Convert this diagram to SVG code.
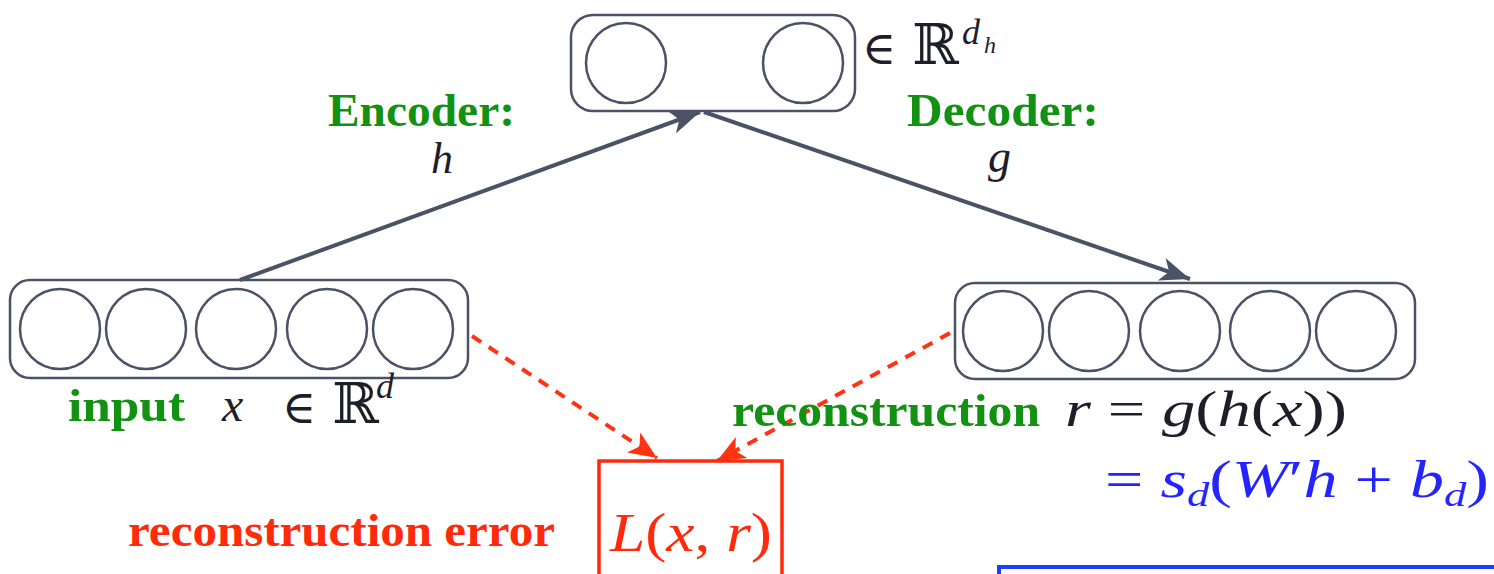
<svg xmlns="http://www.w3.org/2000/svg" width="1494" height="574" viewBox="0 0 1494 574">
<style>
.box{fill:none;stroke:#4a5366;stroke-width:2.5}
.unit{fill:none;stroke:#4a5366;stroke-width:2.5}
.lbl{font-family:"Liberation Serif",serif;font-weight:bold;fill:#139113}
.math{font-family:"Liberation Serif",serif;font-style:italic;fill:#1e1e2a}
.up{font-style:normal}
.sym{font-family:"DejaVu Serif",serif;fill:#1e1e2a}
.conn{stroke:#4a5366;stroke-width:4;fill:none}
.err{stroke:#ff3311;stroke-width:4;fill:none;stroke-dasharray:11 9}
</style>
<defs>
<marker id="ah" markerUnits="userSpaceOnUse" markerWidth="32" markerHeight="26" refX="30" refY="13" orient="auto">
<path d="M0,1 L30,13 L0,25 L8,13 z" fill="#4a5366"/>
</marker>
<marker id="ahr" markerUnits="userSpaceOnUse" markerWidth="30" markerHeight="26" refX="28" refY="13" orient="auto">
<path d="M0,1 L28,13 L0,25 L7,13 z" fill="#ff3311"/>
</marker>
</defs>
<rect width="1494" height="574" fill="#fff"/>

<g id="connectors">
<line class="conn" x1="240" y1="280" x2="700" y2="112" marker-end="url(#ah)"/>
<line class="conn" x1="704" y1="112" x2="1190" y2="279" marker-end="url(#ah)"/>
<line class="err" x1="472" y1="336" x2="657" y2="458" marker-end="url(#ahr)"/>
<line class="err" x1="950" y1="333" x2="717" y2="461" marker-end="url(#ahr)"/>
</g>

<g id="hidden">
<rect class="box" x="571" y="15" width="284" height="96" rx="22"/>
<circle class="unit" cx="626" cy="63" r="40"/>
<circle class="unit" cx="803" cy="63" r="40"/>
<text x="862" y="64" class="sym" font-size="46">∈</text>
<text x="912" y="64" class="sym" font-size="56">ℝ</text>
<text x="962" y="44" class="math" font-size="36">d</text>
<text x="984" y="53" class="math" font-size="24">h</text>
</g>

<g id="encoder-label">
<text x="328" y="126" class="lbl" font-size="47" textLength="187" lengthAdjust="spacingAndGlyphs">Encoder:</text>
<text x="431" y="173" class="math" font-size="44">h</text>
</g>

<g id="decoder-label">
<text x="907" y="126" class="lbl" font-size="47" textLength="192" lengthAdjust="spacingAndGlyphs">Decoder:</text>
<text x="988" y="172" class="math" font-size="46">g</text>
</g>

<g id="input">
<rect class="box" x="10" y="280" width="458" height="98" rx="20"/>
<circle class="unit" cx="60" cy="329" r="40"/>
<circle class="unit" cx="146" cy="329" r="40"/>
<circle class="unit" cx="236" cy="329" r="40"/>
<circle class="unit" cx="327" cy="329" r="40"/>
<circle class="unit" cx="413" cy="329" r="40"/>
<text x="68" y="421" class="lbl" font-size="47" textLength="117" lengthAdjust="spacingAndGlyphs">input</text>
<text x="222" y="421" class="math" font-size="48">x</text>
<text x="282" y="423" class="sym" font-size="46">∈</text>
<text x="332" y="423" class="sym" font-size="56">ℝ</text>
<text x="376" y="398" class="math" font-size="36">d</text>
</g>

<g id="reconstruction">
<rect class="box" x="955" y="283" width="460" height="96" rx="20"/>
<circle class="unit" cx="1003" cy="331" r="40"/>
<circle class="unit" cx="1089" cy="331" r="40"/>
<circle class="unit" cx="1180" cy="331" r="40"/>
<circle class="unit" cx="1270" cy="331" r="40"/>
<circle class="unit" cx="1356" cy="331" r="40"/>
<text x="732" y="426" class="lbl" font-size="47" textLength="308" lengthAdjust="spacingAndGlyphs">reconstruction</text>
<text x="1065" y="426" class="math" font-size="50" textLength="282" lengthAdjust="spacingAndGlyphs">r <tspan class="up">=</tspan> g<tspan class="up">(</tspan>h<tspan class="up">(</tspan>x<tspan class="up">))</tspan></text>
<text x="1105" y="497" class="math" font-size="52" style="fill:#2424ff" textLength="384" lengthAdjust="spacingAndGlyphs"><tspan class="up">=</tspan> s<tspan font-size="34" dy="9">d</tspan><tspan class="up" dy="-9">(</tspan>W<tspan class="up">′</tspan>h <tspan class="up">+</tspan> b<tspan font-size="34" dy="9">d</tspan><tspan class="up" dy="-9">)</tspan></text>
</g>

<g id="loss">
<rect x="599" y="461" width="183" height="130" fill="none" stroke="#ff2a0a" stroke-width="3.5"/>
<text x="610" y="551" class="math" font-size="54" style="fill:#ff2a0a" textLength="162" lengthAdjust="spacingAndGlyphs">L<tspan class="up">(</tspan>x<tspan class="up">,</tspan> r<tspan class="up">)</tspan></text>
<text x="128" y="546" class="lbl" font-size="47" style="fill:#ff2a0a" textLength="427" lengthAdjust="spacingAndGlyphs">reconstruction error</text>
</g>

<g id="blue-box">
<rect x="999" y="567" width="520" height="40" fill="none" stroke="#1f3dff" stroke-width="4"/>
</g>
</svg>
